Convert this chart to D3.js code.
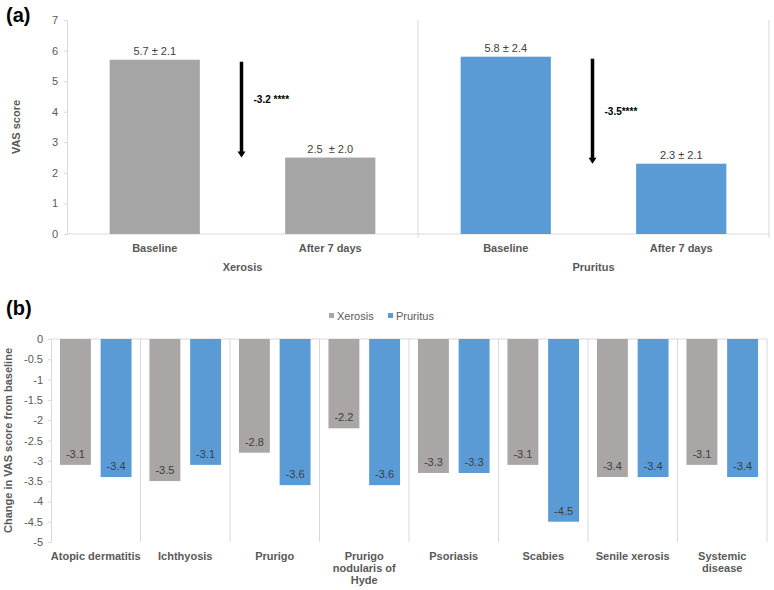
<!DOCTYPE html>
<html><head><meta charset="utf-8">
<script src="https://cdn.jsdelivr.net/npm/d3@7"></script>
<style>
body{margin:0;background:#fff;}
svg{font-family:"Liberation Sans",Arial,sans-serif;}
text{white-space:pre;}
</style></head>
<body><svg id="c" width="774" height="590"></svg>
<script>
// ---- Panel (a) data ----
const groupsA = ["Xerosis", "Pruritus"];
const timesA = ["Baseline", "After 7 days"];
const xerosisA = [5.7, 2.5];
const pruritusA = [5.8, 2.3];
const labelsXerosisA = ["5.7 ± 2.1", "2.5  ± 2.0"];
const labelsPruritusA = ["5.8 ± 2.4", "2.3 ± 2.1"];
const changeLabelsA = ["-3.2 ****", "-3.5****"];
const ticksA = [0,1,2,3,4,5,6,7];

// ---- Panel (b) data ----
const categoriesB = ["Atopic dermatitis","Ichthyosis","Prurigo","Prurigo nodularis of Hyde","Psoriasis","Scabies","Senile xerosis","Systemic disease"];
const categoryLinesB = [["Atopic dermatitis"],["Ichthyosis"],["Prurigo"],["Prurigo","nodularis of","Hyde"],["Psoriasis"],["Scabies"],["Senile xerosis"],["Systemic","disease"]];
const seriesB = ["Xerosis","Pruritus"];
const xerosisB = [-3.1,-3.5,-2.8,-2.2,-3.3,-3.1,-3.4,-3.1];
const pruritusB = [-3.4,-3.1,-3.6,-3.6,-3.3,-4.5,-3.4,-3.4];
const ticksB = [0,-0.5,-1,-1.5,-2,-2.5,-3,-3.5,-4,-4.5,-5];

const GRAY = "#a5a5a5", GRAYB = "#a9a6a5", BLUE = "#5b9bd5";
const TXT = "#595959", LINE = "#d9d9d9";
const hy = s => String(s).replace(/\u2212/g, "-");
const svg = d3.select("#c");

// ================= Panel (a) =================
{
  const left = 67, right = 769, top = 20, bottom = 234;
  const y = d3.scaleLinear().domain([0,7]).range([bottom, top]);
  const xg = d3.scaleBand().domain(groupsA).range([left, right]);
  const xt = d3.scaleBand().domain(timesA).range([0, xg.bandwidth()]).paddingInner(0.486).paddingOuter(0.243);
  const g = svg.append("g");

  const ya = g.append("g").attr("transform", `translate(${left},0)`)
    .call(d3.axisLeft(y).tickValues(ticksA).tickSize(3).tickFormat(d3.format("d")));
  ya.select(".domain").attr("stroke", LINE);
  ya.selectAll(".tick line").attr("stroke", LINE);
  ya.selectAll(".tick text").attr("fill", TXT).attr("font-size", 11).attr("x", -9);

  g.append("line").attr("x1", left).attr("x2", right).attr("y1", bottom).attr("y2", bottom).attr("stroke", LINE);
  [left + xg.bandwidth(), right].forEach(xx => {
    g.append("line").attr("x1", xx).attr("x2", xx).attr("y1", top).attr("y2", bottom + 4).attr("stroke", LINE);
  });

  const dataA = [
    {grp:"Xerosis", vals: xerosisA, labels: labelsXerosisA, color: GRAY, change: changeLabelsA[0]},
    {grp:"Pruritus", vals: pruritusA, labels: labelsPruritusA, color: BLUE, change: changeLabelsA[1]}
  ];
  dataA.forEach(d => {
    const gx = xg(d.grp);
    timesA.forEach((t, i) => {
      const bx = gx + xt(t);
      g.append("rect").attr("x", bx).attr("y", y(d.vals[i])).attr("width", xt.bandwidth())
        .attr("height", y(0) - y(d.vals[i])).attr("fill", d.color);
      g.append("text").attr("x", bx + xt.bandwidth()/2).attr("y", y(d.vals[i]) - 5)
        .attr("text-anchor", "middle").attr("font-size", 11).attr("fill", "#404040").text(d.labels[i]);
      g.append("text").attr("x", bx + xt.bandwidth()/2).attr("y", bottom + 18)
        .attr("text-anchor", "middle").attr("font-size", 11).attr("font-weight", "bold").attr("fill", TXT).text(t);
    });
    g.append("text").attr("x", gx + xg.bandwidth()/2).attr("y", bottom + 37)
      .attr("text-anchor", "middle").attr("font-size", 11).attr("font-weight", "bold").attr("fill", TXT).text(d.grp);

    const ax = gx + xg.bandwidth()/2 - 1;
    const y1 = y(d.vals[0]) + 2, y2 = y(d.vals[1]) - 0;
    g.append("line").attr("x1", ax).attr("x2", ax).attr("y1", y1).attr("y2", y2 - 5)
      .attr("stroke", "#000").attr("stroke-width", 3.5);
    g.append("path").attr("d", `M${ax-4},${y2-6} L${ax+4},${y2-6} L${ax},${y2} Z`).attr("fill", "#000");
    g.append("text").attr("x", ax + 12).attr("y", (y1 + y2)/2 + (d.grp === "Xerosis" ? -7 : 4))
      .attr("font-size", 10).attr("font-weight", "bold").attr("fill", "#000").text(d.change);
  });

  g.append("text").attr("transform", `translate(20,${(top+bottom)/2}) rotate(-90)`)
    .attr("text-anchor", "middle").attr("font-size", 11).attr("font-weight", "bold").attr("fill", TXT).text("VAS score");
  svg.append("text").attr("x", 6).attr("y", 22).attr("font-size", 20).attr("font-weight", "bold").attr("fill", "#000").text("(a)");
}

// ================= Panel (b) =================
{
  const left = 51, right = 767, top = 339, bottom = 542;
  const y = d3.scaleLinear().domain([0,-5]).range([top, bottom]);
  const x = d3.scaleBand().domain(categoriesB).range([left, right]);
  const xs = d3.scaleBand().domain(seriesB).range([0, x.bandwidth()]).paddingInner(0.24).paddingOuter(0.22);
  const g = svg.append("g");

  const ya = g.append("g").attr("transform", `translate(${left},0)`)
    .call(d3.axisLeft(y).tickValues(ticksB).tickSize(3).tickFormat(d => hy(d3.format("")(d))));
  ya.select(".domain").attr("stroke", LINE);
  ya.selectAll(".tick line").attr("stroke", LINE);
  ya.selectAll(".tick text").attr("fill", TXT).attr("font-size", 11).attr("x", -8);

  g.append("line").attr("x1", left).attr("x2", right).attr("y1", y(0)).attr("y2", y(0)).attr("stroke", LINE);
  categoriesB.forEach(c => {
    const xx = x(c) + x.bandwidth();
    g.append("line").attr("x1", xx).attr("x2", xx).attr("y1", top).attr("y2", bottom).attr("stroke", LINE);
  });

  const ser = [{name:"Xerosis", vals: xerosisB, color: GRAYB}, {name:"Pruritus", vals: pruritusB, color: BLUE}];
  categoriesB.forEach((c, i) => {
    ser.forEach(s => {
      const bx = x(c) + xs(s.name), v = s.vals[i];
      g.append("rect").attr("x", bx).attr("y", y(0)).attr("width", xs.bandwidth())
        .attr("height", y(v) - y(0)).attr("fill", s.color);
      g.append("text").attr("x", bx + xs.bandwidth()/2).attr("y", y(v) - 7)
        .attr("text-anchor", "middle").attr("font-size", 11).attr("fill", "#404040").text(hy(d3.format(".1f")(v)));
    });
    const t = g.append("text").attr("text-anchor", "middle").attr("font-size", 11).attr("font-weight", "bold").attr("fill", TXT);
    categoryLinesB[i].forEach((ln, k) => {
      t.append("tspan").attr("x", x(c) + x.bandwidth()/2).attr("y", bottom + 18 + k*12).text(ln);
    });
  });

  g.append("text").attr("transform", `translate(12,${(top+bottom)/2}) rotate(-90)`)
    .attr("text-anchor", "middle").attr("font-size", 11).attr("font-weight", "bold").attr("fill", TXT)
    .text("Change in VAS score from baseline");

  const lg = g.append("g");
  const legX = [329, 388];
  ser.forEach((s, k) => {
    lg.append("rect").attr("x", legX[k]).attr("y", 313).attr("width", 5).attr("height", 5).attr("fill", s.color);
    lg.append("text").attr("x", legX[k] + 8).attr("y", 319.5).attr("font-size", 11).attr("fill", TXT).text(s.name);
  });

  svg.append("text").attr("x", 6).attr("y", 315).attr("font-size", 20).attr("font-weight", "bold").attr("fill", "#000").text("(b)");
}
</script></body></html>
